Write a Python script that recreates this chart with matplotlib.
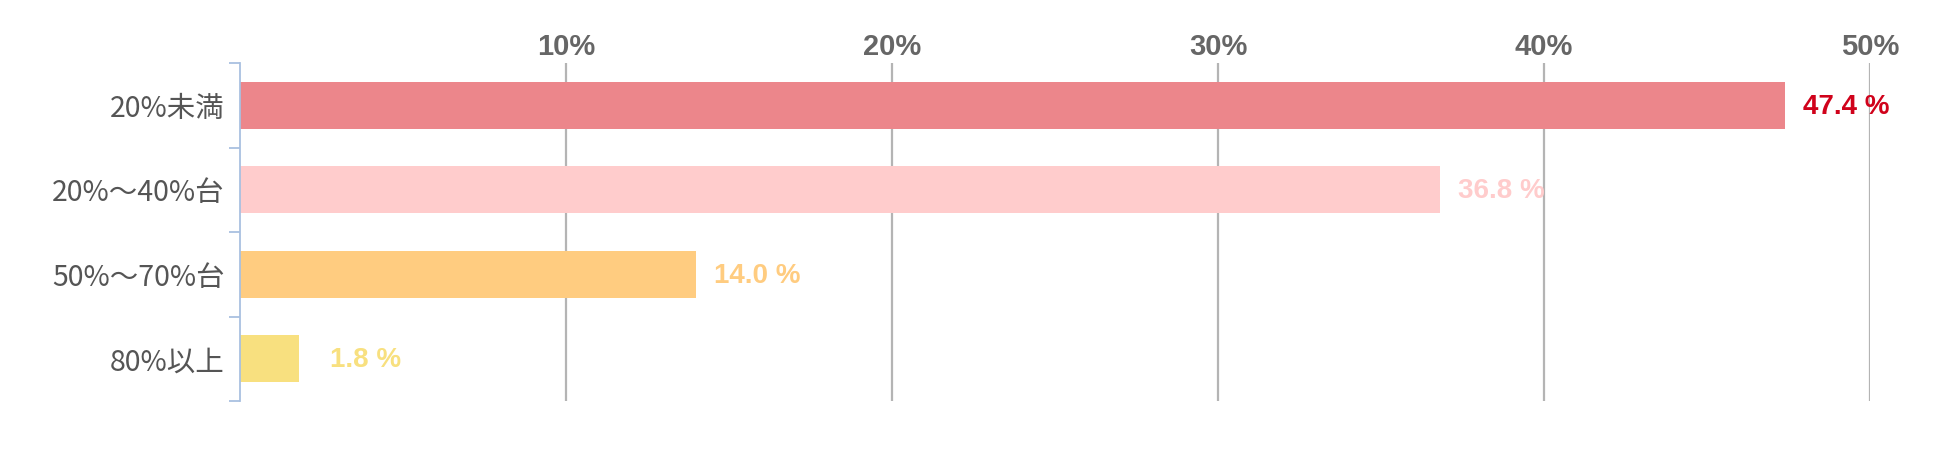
import matplotlib
matplotlib.use("Agg")
import matplotlib.pyplot as plt

# data
categories = ["20%未満", "20%〜40%台", "50%〜70%台", "80%以上"]
values = [47.4, 36.8, 14.0, 1.8]
bar_colors = ["#ec868b", "#ffcccc", "#ffcc80", "#f8e07f"]
label_colors = ["#d0021b", "#ffcccc", "#ffcc80", "#f8e07f"]
xticks = [10, 20, 30, 40, 50]
xtick_labels = ["10%", "20%", "30%", "40%", "50%"]

plt.rcParams['font.family'] = ['Noto Sans CJK JP', 'DejaVu Sans']

fig = plt.figure(figsize=(19.5, 4.72), dpi=100)
ax = fig.add_axes([240 / 1950, 1 - 401 / 472, (1870 - 240) / 1950, (401 - 63) / 472])

ypos = list(range(len(categories)))
ax.barh(ypos, values, height=0.56, color=bar_colors, zorder=2)

for y, v, c in zip(ypos, values, label_colors):
    ax.text(max(v, 2.2) + 0.55, y + 0.02, f"{v:.1f} %", va="center", ha="left",
            color=c, fontsize=20, fontweight="bold",
            family="Liberation Sans", zorder=3)

ax.set_xlim(0, 50)
ax.set_ylim(len(categories) - 0.5, -0.5)

# x axis on top, bold gray labels, no tick marks
ax.xaxis.tick_top()
ax.set_xticks(xticks)
ax.set_xticklabels(xtick_labels, fontsize=21, fontweight="bold",
                   color="#666666", family="Liberation Sans")
ax.tick_params(axis="x", length=0, pad=1.5)
ax.grid(axis="x", color="#b4b4b4", linewidth=1.6, zorder=1)

# category labels, ticks at band boundaries
ax.set_yticks(ypos)
ax.set_yticklabels(categories, fontsize=20.5, color="#555555")
ax.tick_params(axis="y", which="major", length=0, pad=11)
ax.set_yticks([-0.5, 0.5, 1.5, 2.5, 3.5], minor=True)
ax.tick_params(axis="y", which="minor", length=8, width=1.3, color="#a9c0e0")

for side in ["top", "right", "bottom"]:
    ax.spines[side].set_visible(False)
ax.spines["left"].set_color("#a9c0e0")
ax.spines["left"].set_linewidth(1.3)

fig.savefig("out.png", dpi=100)
